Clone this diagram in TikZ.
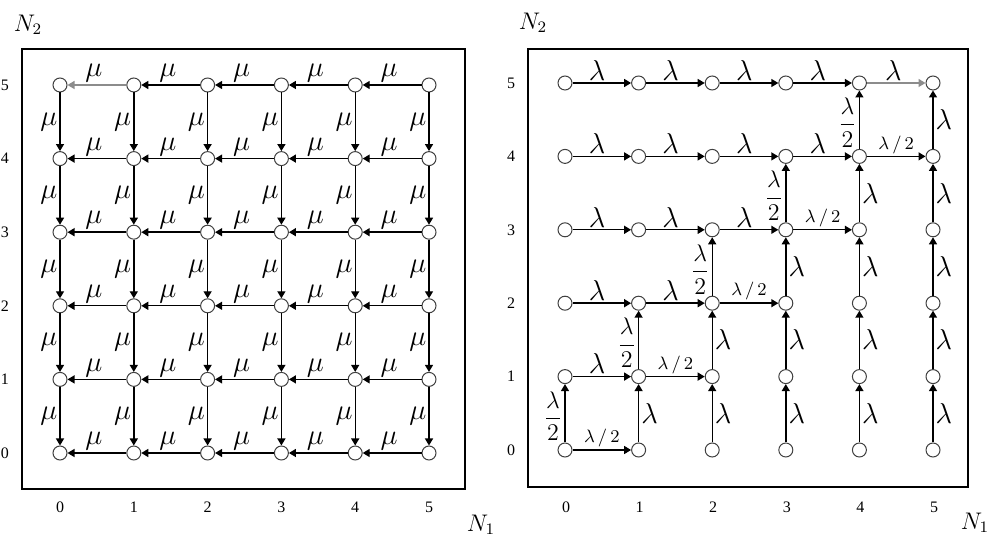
\documentclass[tikz,border=0pt]{standalone}
\usepackage{amsmath}
\usepackage{fontspec}
\setmainfont{Liberation Serif}
\usetikzlibrary{arrows.meta}

\tikzset{
  state/.style={circle, draw=black!75, fill=white, line width=0.5pt,
    inner sep=0pt, minimum size=7pt},
  rate/.style={line width=0.7pt, -{Triangle[length=3.5pt,width=4pt]}},
  ratelbl/.style={font=\Large, inner sep=1pt},
  halflbl/.style={font=\small, inner sep=1pt},
  fraclbl/.style={font=\large, inner sep=1pt},
  axlbl/.style={font=\footnotesize},
  varlbl/.style={font=\large},
  frame/.style={line width=0.75pt},
}

\begin{document}
\begin{tikzpicture}[x=0.5pt,y=0.5pt]
\useasboundingbox (0,0) rectangle (995,551);

% Drawing frames
\draw[frame] (22,62) rectangle (465,502);
\draw[frame] (528,64) rectangle (968,502);

% Marking axes
\node[varlbl] (L-N2) at (28,526) {$N_2$};
\node[varlbl] (L-N1) at (481,26) {$N_1$};
\node[varlbl] (R-N2) at (533,528) {$N_2$};
\node[varlbl] (R-N1) at (975,28) {$N_1$};
\foreach \k in {0,...,5} {
  \node[axlbl] (L-row-\k) at (5,98+73.6*\k) {\k};
  \node[axlbl] (L-col-\k) at (60+73.8*\k,44) {\k};
  \node[axlbl] (R-row-\k) at (511,101+73.4*\k) {\k};
  \node[axlbl] (R-col-\k) at (566+73.6*\k,44) {\k};
}

% Drawing states (N1,N2)
\foreach \i in {0,...,5}
  \foreach \j in {0,...,5} {
    \node[state] (L-\i-\j) at (60+73.8*\i,98+73.6*\j) {};
    \node[state] (R-\i-\j) at (565+73.6*\i,101+73.4*\j) {};
  }

% Drawing left grid, departures mu
\foreach \i in {1,...,5}
  \foreach \j in {0,...,5} {
    \pgfmathtruncatemacro{\k}{\i-1}
    \ifnum\i\j=15
      \draw[rate, draw=black!45] (L-\i-\j) -- node[ratelbl, above, pos=0.55] {$\mu$} (L-\k-\j);
    \else
      \draw[rate] (L-\i-\j) -- node[ratelbl, above, pos=0.55] {$\mu$} (L-\k-\j);
    \fi
  }
\foreach \i in {0,...,5}
  \foreach \j in {1,...,5} {
    \pgfmathtruncatemacro{\k}{\j-1}
    \draw[rate] (L-\i-\j) -- node[ratelbl, left] {$\mu$} (L-\i-\k);
  }

% Drawing right grid, arrivals lambda
\foreach \i in {0,...,4}
  \foreach \j in {0,...,5} {
    \pgfmathtruncatemacro{\k}{\i+1}
    \ifnum\i<\j
      \ifnum\i\j=45
        \draw[rate, draw=black!45] (R-\i-\j) -- node[ratelbl, above, pos=0.45] {$\lambda$} (R-\k-\j);
      \else
        \draw[rate] (R-\i-\j) -- node[ratelbl, above, pos=0.42] {$\lambda$} (R-\k-\j);
      \fi
    \else\ifnum\i=\j
      \draw[rate] (R-\i-\j) -- node[halflbl, above] {$\lambda\,/\,2$} (R-\k-\j);
    \fi\fi
  }
\foreach \i in {0,...,5}
  \foreach \j in {0,...,4} {
    \pgfmathtruncatemacro{\k}{\j+1}
    \ifnum\j<\i
      \draw[rate] (R-\i-\j) -- node[ratelbl, right] {$\lambda$} (R-\i-\k);
    \else\ifnum\i=\j
      \draw[rate] (R-\i-\j) -- node[fraclbl, left, pos=0.45] {$\dfrac{\lambda}{2}$} (R-\i-\k);
    \fi\fi
  }
\end{tikzpicture}
\end{document}
